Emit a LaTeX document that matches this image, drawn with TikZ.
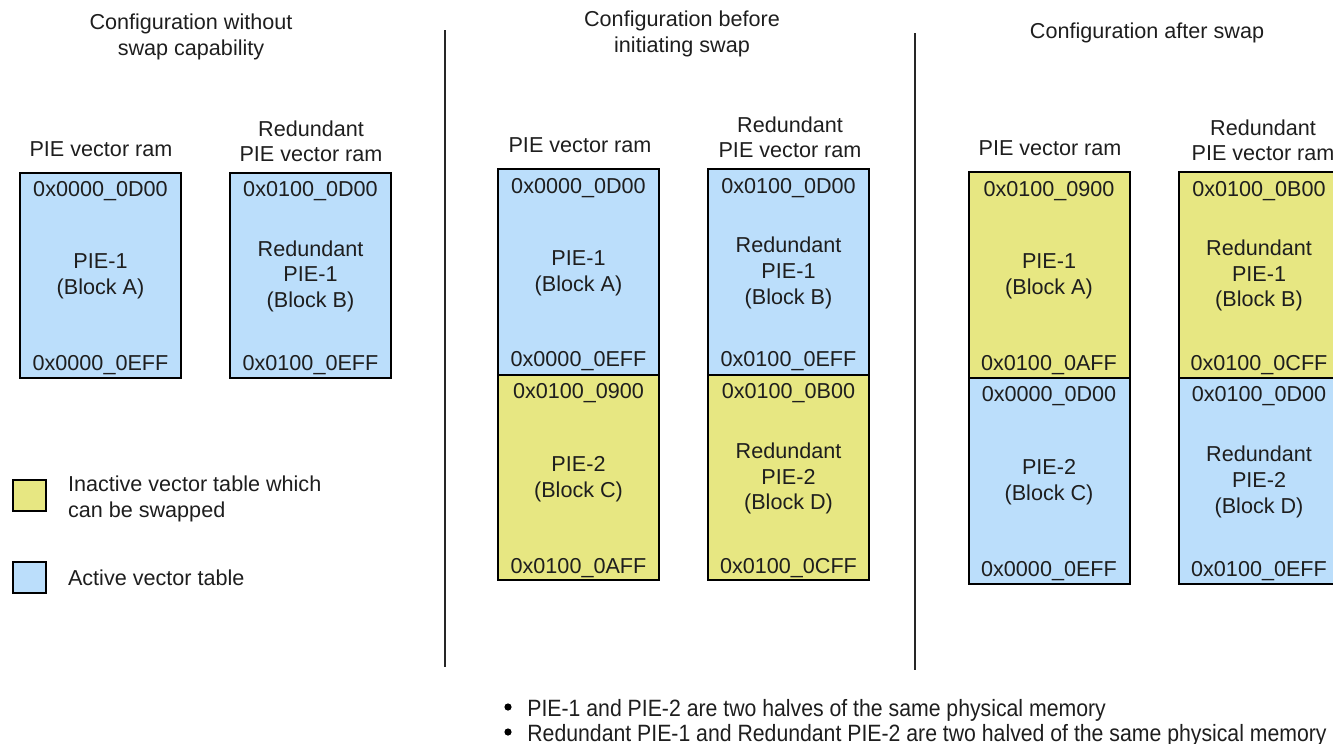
\documentclass[tikz,border=0pt]{standalone}
\usepackage{fontspec}
\setmainfont{Liberation Sans}
\newfontfamily\narrowfont[FakeStretch=0.9]{Liberation Sans}
\definecolor{actblue}{RGB}{187,222,251}
\definecolor{inayellow}{RGB}{231,231,130}
\definecolor{txtgray}{RGB}{30,30,30}
\begin{document}
\begin{tikzpicture}[x=0.5pt,y=-0.5pt,
  lbl/.style={anchor=base,inner sep=0pt,outer sep=0pt,text=txtgray,font=\fontsize{10.8}{13}\selectfont},
  lbll/.style={lbl,anchor=base west},
  memblock/.style={draw=black,line width=1pt,inner sep=0pt,outer sep=0pt,minimum width=80.5pt},
  half/.style={memblock,minimum height=102.75pt},
  actv/.style={fill=actblue},
  inact/.style={fill=inayellow},
  legsq/.style={draw=black,line width=1pt,inner sep=0pt,minimum width=16.5pt,minimum height=15.5pt},
  divider/.style={draw=black!85,line width=1pt},
  bul/.style={anchor=base west,inner sep=0pt,text=txtgray,font=\narrowfont\fontsize{11.8}{13}\selectfont},
  dot/.style={circle,fill=black,inner sep=0pt,minimum size=3.6pt}
]
\useasboundingbox (0,0) rectangle (1333,744);
% ---------------- Panel 1 ----------------
\node[lbl] (t1a) at (191,29) {Configuration without};
\node[lbl] (t1b) at (191,55) {swap capability};
\node[lbl] (h1) at (101,156) {PIE vector ram};
\node[lbl] (h2a) at (311,136) {Redundant};
\node[lbl] (h2b) at (311,161) {PIE vector ram};
\node[half,actv] (b1) at (100.5,275.5) {};
\node[lbl] (b1t) at (100.5,196) {0x0000\_0D00};
\node[lbl] (b1m1) at (100.5,268) {PIE-1};
\node[lbl] (b1m2) at (100.5,294) {(Block A)};
\node[lbl] (b1b) at (100.5,370) {0x0000\_0EFF};
\node[half,actv] (b2) at (310.5,275.5) {};
\node[lbl] (b2t) at (310.5,196) {0x0100\_0D00};
\node[lbl] (b2m1) at (310.5,256) {Redundant};
\node[lbl] (b2m2) at (310.5,281) {PIE-1};
\node[lbl] (b2m3) at (310.5,307) {(Block B)};
\node[lbl] (b2b) at (310.5,370) {0x0100\_0EFF};
% legend
\node[legsq,fill=inayellow] (lg1) at (29.5,495.5) {};
\node[lbll] (lg1a) at (68,491) {Inactive vector table which};
\node[lbll] (lg1b) at (68,517) {can be swapped};
\node[legsq,fill=actblue] (lg2) at (29.5,577) {};
\node[lbll] (lg2a) at (68,585) {Active vector table};
% dividers
\coordinate (d1t) at (445,30); \coordinate (d1b) at (445,667);
\coordinate (d2t) at (915,33); \coordinate (d2b) at (915,670);
\draw[divider] (d1t) -- (d1b);
\draw[divider] (d2t) -- (d2b);
% ---------------- Panel 2 ----------------
\node[lbl] (t2a) at (682,26) {Configuration before};
\node[lbl] (t2b) at (682,52) {initiating swap};
\node[lbl] (h3) at (580,152) {PIE vector ram};
\node[lbl] (h4a) at (790,132) {Redundant};
\node[lbl] (h4b) at (790,157) {PIE vector ram};
\node[half,actv] (b3) at (578.5,272) {};
\node[half,inact] (b3y) at (578.5,477.5) {};
\node[lbl] (b3t) at (578.5,193) {0x0000\_0D00};
\node[lbl] (b3m1) at (578.5,265) {PIE-1};
\node[lbl] (b3m2) at (578.5,291) {(Block A)};
\node[lbl] (b3b) at (578.5,366) {0x0000\_0EFF};
\node[lbl] (b3yt) at (578.5,398) {0x0100\_0900};
\node[lbl] (b3ym1) at (578.5,471) {PIE-2};
\node[lbl] (b3ym2) at (578.5,497) {(Block C)};
\node[lbl] (b3yb) at (578.5,573) {0x0100\_0AFF};
\node[half,actv] (b4) at (788.5,272) {};
\node[half,inact] (b4y) at (788.5,477.5) {};
\node[lbl] (b4t) at (788.5,193) {0x0100\_0D00};
\node[lbl] (b4m1) at (788.5,252) {Redundant};
\node[lbl] (b4m2) at (788.5,278) {PIE-1};
\node[lbl] (b4m3) at (788.5,304) {(Block B)};
\node[lbl] (b4b) at (788.5,366) {0x0100\_0EFF};
\node[lbl] (b4yt) at (788.5,398) {0x0100\_0B00};
\node[lbl] (b4ym1) at (788.5,458) {Redundant};
\node[lbl] (b4ym2) at (788.5,484) {PIE-2};
\node[lbl] (b4ym3) at (788.5,509) {(Block D)};
\node[lbl] (b4yb) at (788.5,573) {0x0100\_0CFF};
% ---------------- Panel 3 ----------------
\node[lbl] (t3) at (1147,39) {Configuration after swap};
\node[lbl] (h5) at (1050,155) {PIE vector ram};
\node[lbl] (h6a) at (1263,135) {Redundant};
\node[lbl] (h6b) at (1263,160) {PIE vector ram};
\node[half,inact] (b5) at (1049,275) {};
\node[half,actv] (b5b) at (1049,481) {};
\node[lbl] (b5t) at (1049,196) {0x0100\_0900};
\node[lbl] (b5m1) at (1049,268) {PIE-1};
\node[lbl] (b5m2) at (1049,294) {(Block A)};
\node[lbl] (b5b1) at (1049,370) {0x0100\_0AFF};
\node[lbl] (b5bt) at (1049,401) {0x0000\_0D00};
\node[lbl] (b5bm1) at (1049,474) {PIE-2};
\node[lbl] (b5bm2) at (1049,500) {(Block C)};
\node[lbl] (b5bb) at (1049,576) {0x0000\_0EFF};
\node[half,inact] (b6) at (1259,275) {};
\node[half,actv] (b6b) at (1259,481) {};
\node[lbl] (b6t) at (1259,196) {0x0100\_0B00};
\node[lbl] (b6m1) at (1259,255) {Redundant};
\node[lbl] (b6m2) at (1259,281) {PIE-1};
\node[lbl] (b6m3) at (1259,306) {(Block B)};
\node[lbl] (b6b1) at (1259,370) {0x0100\_0CFF};
\node[lbl] (b6bt) at (1259,401) {0x0100\_0D00};
\node[lbl] (b6bm1) at (1259,461) {Redundant};
\node[lbl] (b6bm2) at (1259,487) {PIE-2};
\node[lbl] (b6bm3) at (1259,513) {(Block D)};
\node[lbl] (b6bb) at (1259,576) {0x0100\_0EFF};
% ---------------- notes ----------------
\node[dot] (n1d) at (508,707) {};
\node[bul] (n1) at (527,716) {PIE-1 and PIE-2 are two halves of the same physical memory};
\node[dot] (n2d) at (508,732) {};
\node[bul] (n2) at (527,741) {Redundant PIE-1 and Redundant PIE-2 are two halved of the same physical memory};
\end{tikzpicture}
\end{document}
